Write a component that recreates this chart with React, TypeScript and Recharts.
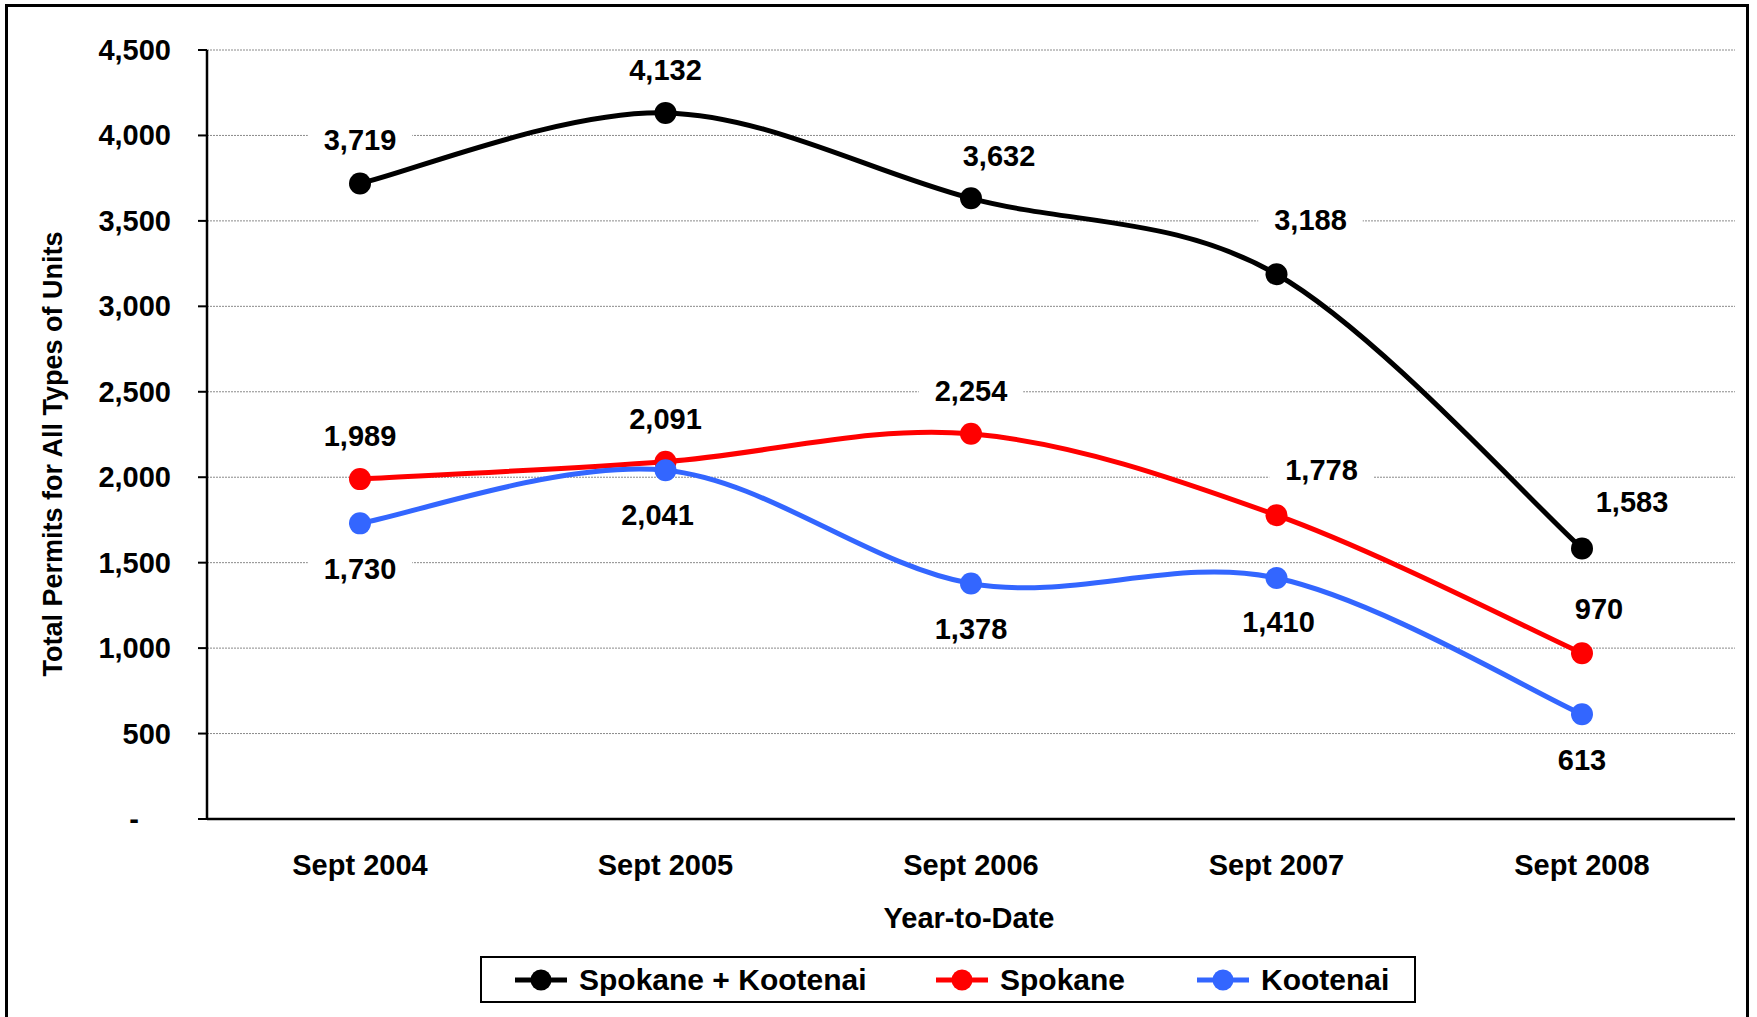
import React from 'react';
import {
  LineChart,
  Line,
  XAxis,
  YAxis,
  CartesianGrid,
  LabelList,
} from 'recharts';

const periods = ['Sept 2004', 'Sept 2005', 'Sept 2006', 'Sept 2007', 'Sept 2008'];
const combined = [3719, 4132, 3632, 3188, 1583];
const spokane = [1989, 2091, 2254, 1778, 970];
const kootenai = [1730, 2041, 1378, 1410, 613];
const yTicks = [0, 500, 1000, 1500, 2000, 2500, 3000, 3500, 4000, 4500];

const data = periods.map((period, i) => ({
  period,
  combined: combined[i],
  spokane: spokane[i],
  kootenai: kootenai[i],
}));

// label placement (dx, dy from the point), hand placed like in the original sheet
const combinedOffsets = [[0, -43], [0, -43], [28, -42], [34, -54], [50, -46]];
const spokaneOffsets = [[0, -43], [0, -43], [0, -43], [45, -45], [17, -44]];
const kootenaiOffsets = [[0, 46], [-8, 45], [0, 45], [2, 44], [0, 46]];

const FONT = '"Liberation Sans", Arial, sans-serif';
const BLUE = '#3366FF';
const FS = 29;

// Excel style smoothing (catmull-rom, 1/6 tangents)
const excelSmooth = (context: any) => {
  let pts: number[][] = [];
  return {
    areaStart() {},
    areaEnd() {},
    lineStart() {
      pts = [];
    },
    lineEnd() {
      if (!pts.length) return;
      context.moveTo(pts[0][0], pts[0][1]);
      for (let i = 0; i < pts.length - 1; i++) {
        const p0 = pts[Math.max(i - 1, 0)];
        const p1 = pts[i];
        const p2 = pts[i + 1];
        const p3 = pts[Math.min(i + 2, pts.length - 1)];
        context.bezierCurveTo(
          p1[0] + (p2[0] - p0[0]) / 6,
          p1[1] + (p2[1] - p0[1]) / 6,
          p2[0] - (p3[0] - p1[0]) / 6,
          p2[1] - (p3[1] - p1[1]) / 6,
          p2[0],
          p2[1],
        );
      }
    },
    point(x: number, y: number) {
      pts.push([x, y]);
    },
  };
};

const fmt = (v: number) => (v === 0 ? '-' : v.toLocaleString('en-US'));

const textWidth = (s: string) =>
  s.split('').reduce((w, c) => w + (c === ',' ? 8 : 16.1), 0);

const makeLabel = (offsets: number[][]) => (props: any) => {
  const {x, y, value, index} = props;
  const [dx, dy] = offsets[index];
  const txt = fmt(value);
  const w = textWidth(txt) + 32;
  const cx = x + dx;
  const cy = y + dy;
  return (
    <g key={`lbl-${index}`}>
      <rect x={cx - w / 2} y={cy - 18} width={w} height={36} fill="#fff" />
      <text
        x={cx}
        y={cy + 10}
        textAnchor="middle"
        fontFamily={FONT}
        fontWeight="bold"
        fontSize={FS}
        fill="#000"
      >
        {txt}
      </text>
    </g>
  );
};

const YTick = (props: any) => {
  const {x, y, payload} = props;
  return (
    <text
      x={payload.value === 0 ? x - 32 : x}
      y={y + 10}
      textAnchor="end"
      fontFamily={FONT}
      fontWeight="bold"
      fontSize={FS}
      fill="#000"
    >
      {fmt(payload.value)}
    </text>
  );
};

const Swatch = ({color}: {color: string}) => (
  <svg width={52} height={24} style={{display: 'block'}}>
    <line x1={0} y1={12} x2={52} y2={12} stroke={color} strokeWidth={5} />
    <circle cx={26} cy={12} r={10.5} fill={color} />
  </svg>
);

const legendItems = [
  {name: 'Spokane + Kootenai', color: '#000'},
  {name: 'Spokane', color: '#FF0000'},
  {name: 'Kootenai', color: BLUE},
];
const legendLeft = [33, 454, 715];

export default function App() {
  return (
    <div
      style={{
        position: 'absolute',
        left: 0,
        top: 0,
        width: 1757,
        height: 1017,
        overflow: 'hidden',
        background: '#fff',
        fontFamily: FONT,
      }}
    >
      <div
        style={{
          position: 'absolute',
          left: 5,
          top: 4,
          width: 1738,
          height: 1060,
          border: '3px solid #000',
        }}
      />
      <LineChart
        width={1757}
        height={1017}
        data={data}
        margin={{top: 50, right: 22, left: 0, bottom: 137}}
        style={{position: 'absolute', left: 0, top: 0}}
      >
        <CartesianGrid
          vertical={false}
          stroke="#8a8a8a"
          strokeDasharray="2 1"
          strokeWidth={1}
        />
        <XAxis
          xAxisId="bounds"
          type="number"
          domain={[0, 5]}
          ticks={[0, 1, 2, 3, 4, 5]}
          allowDataOverflow
          height={1}
          tick={false}
          tickSize={10}
          axisLine={{stroke: '#000', strokeWidth: 2.5}}
          tickLine={{stroke: '#000', strokeWidth: 2}}
        />
        <XAxis
          xAxisId="cat"
          dataKey="period"
          scale="point"
          padding={{left: 153, right: 153}}
          height={60}
          axisLine={false}
          tickLine={false}
          tickSize={0}
          tickMargin={34}
          tick={{fontFamily: FONT, fontWeight: 'bold', fontSize: FS, fill: '#000'}}
        />
        <YAxis
          width={207}
          domain={[0, 4500]}
          ticks={yTicks}
          interval={0}
          tickSize={9}
          tickMargin={27}
          tick={<YTick />}
          axisLine={{stroke: '#000', strokeWidth: 2.5}}
          tickLine={{stroke: '#000', strokeWidth: 2}}
        />
        <Line
          xAxisId="cat"
          dataKey="combined"
          type={excelSmooth as any}
          stroke="#000"
          strokeWidth={5}
          dot={{r: 11, fill: '#000', stroke: '#000', strokeWidth: 0}}
          activeDot={false}
          isAnimationActive={false}
        >
          <LabelList dataKey="combined" content={makeLabel(combinedOffsets)} />
        </Line>
        <Line
          xAxisId="cat"
          dataKey="spokane"
          type={excelSmooth as any}
          stroke="#FF0000"
          strokeWidth={5}
          dot={{r: 11, fill: '#FF0000', stroke: '#FF0000', strokeWidth: 0}}
          activeDot={false}
          isAnimationActive={false}
        >
          <LabelList dataKey="spokane" content={makeLabel(spokaneOffsets)} />
        </Line>
        <Line
          xAxisId="cat"
          dataKey="kootenai"
          type={excelSmooth as any}
          stroke={BLUE}
          strokeWidth={5}
          dot={{r: 11, fill: BLUE, stroke: BLUE, strokeWidth: 0}}
          activeDot={false}
          isAnimationActive={false}
        >
          <LabelList dataKey="kootenai" content={makeLabel(kootenaiOffsets)} />
        </Line>
      </LineChart>

      <div
        style={{
          position: 'absolute',
          left: 53,
          top: 454,
          transform: 'translate(-50%, -50%) rotate(-90deg)',
          whiteSpace: 'nowrap',
          fontWeight: 'bold',
          fontSize: 27,
        }}
      >
        Total Permits for All Types of Units
      </div>
      <div
        style={{
          position: 'absolute',
          left: 969,
          top: 918,
          transform: 'translate(-50%, -50%)',
          whiteSpace: 'nowrap',
          fontWeight: 'bold',
          fontSize: FS,
        }}
      >
        Year-to-Date
      </div>

      <div
        style={{
          position: 'absolute',
          left: 480,
          top: 956,
          width: 932,
          height: 43,
          border: '2px solid #000',
          background: '#fff',
        }}
      >
        {legendItems.map((item, i) => (
          <div
            key={item.name}
            style={{
              position: 'absolute',
              left: legendLeft[i],
              top: 0,
              height: 43,
              display: 'flex',
              alignItems: 'center',
              gap: 12,
              whiteSpace: 'nowrap',
              fontWeight: 'bold',
              fontSize: 30,
            }}
          >
            <Swatch color={item.color} />
            <span>{item.name}</span>
          </div>
        ))}
      </div>
    </div>
  );
}
